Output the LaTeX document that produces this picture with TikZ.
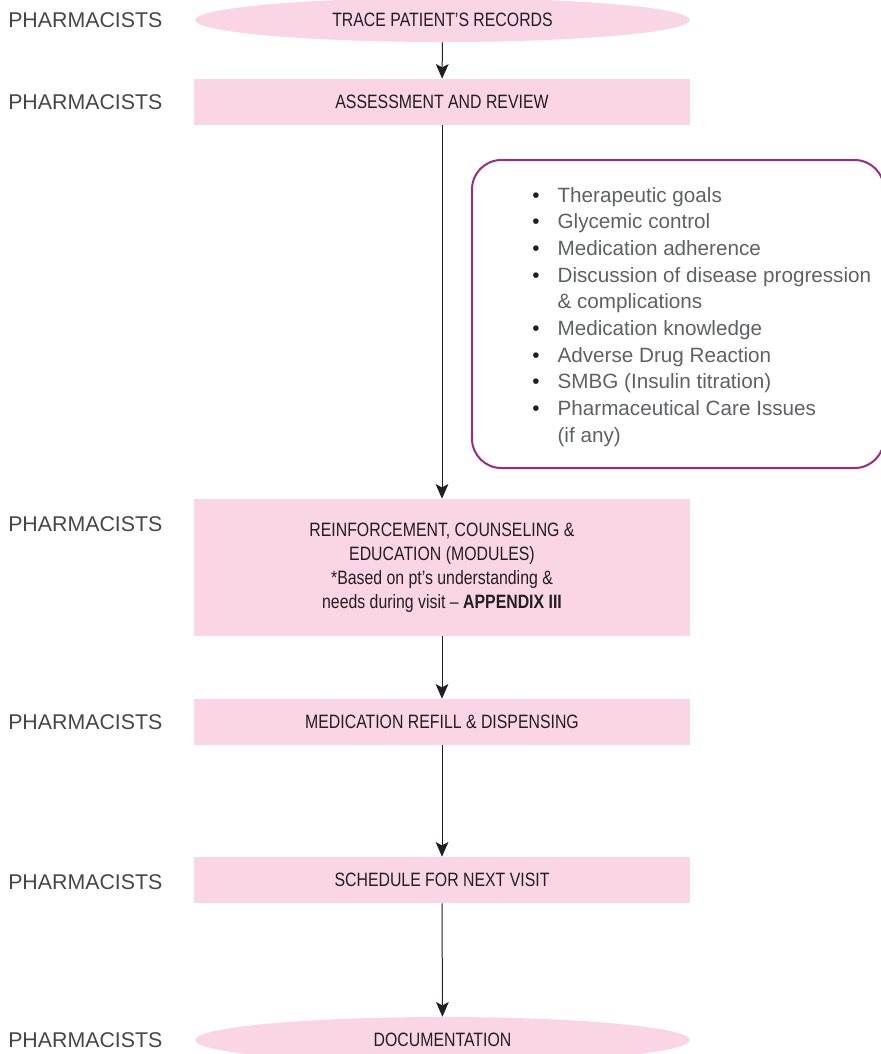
\documentclass[tikz,border=0pt]{standalone}
\usepackage{fontspec}
\setmainfont{Liberation Sans}
\newfontfamily\condfont[FakeStretch=0.82]{Liberation Sans}
\usetikzlibrary{arrows.meta}
\usetikzlibrary{shapes.geometric}
\definecolor{boxpink}{RGB}{249,213,229}
\definecolor{framepurple}{RGB}{152,42,140}
\definecolor{inkdark}{RGB}{35,31,32}
\definecolor{labelgray}{RGB}{70,70,72}
\definecolor{listgray}{RGB}{95,96,98}
\tikzset{
  stepbox/.style={rectangle, fill=boxpink, draw=none, minimum width=372pt, minimum height=34.5pt, inner sep=0pt, align=center, text=inkdark, font=\condfont\fontsize{14.5}{18}\selectfont},
  endcap/.style={ellipse, fill=boxpink, draw=none, minimum width=371pt, minimum height=33pt, inner sep=0pt, text=inkdark, font=\condfont\fontsize{14.5}{18}\selectfont},
  rolelabel/.style={anchor=west, inner sep=0pt, text=labelgray, font=\fontsize{16}{18}\selectfont},
  flow/.style={line width=0.75pt, draw=inkdark, -{Stealth[length=11pt,width=9.5pt,inset=2.5pt]}}
}
\newcommand{\bul}{\makebox[19pt][l]{\textcolor{inkdark}{\textbullet}}}
\newcommand{\bulskip}{\hspace*{19pt}}
\begin{document}
\begin{tikzpicture}[x=0.75pt,y=0.75pt,yscale=-1,xscale=1]
\useasboundingbox (0,0) rectangle (881,1054);

%Flow steps
\node [endcap] (trace) at (442.5,20) {TRACE PATIENT’S RECORDS};
\node [stepbox] (assess) at (442,102) {ASSESSMENT AND REVIEW};
\node [stepbox, minimum height=102.75pt] (reinf) at (442,567.5) {REINFORCEMENT, COUNSELING \&\\EDUCATION (MODULES)\\*Based on pt’s understanding \&\\needs during visit – \textbf{APPENDIX III}};
\node [stepbox] (refill) at (442,722) {MEDICATION REFILL \& DISPENSING};
\node [stepbox] (sched) at (442,880) {SCHEDULE FOR NEXT VISIT};
\node [endcap, minimum height=34.5pt] (docu) at (442.5,1040) {DOCUMENTATION};

%Role labels
\node [rolelabel] (role1) at (8,20) {PHARMACISTS};
\node [rolelabel] (role2) at (8,102) {PHARMACISTS};
\node [rolelabel] (role3) at (8,524) {PHARMACISTS};
\node [rolelabel] (role4) at (8,722) {PHARMACISTS};
\node [rolelabel] (role5) at (8,882) {PHARMACISTS};
\node [rolelabel] (role6) at (8,1040) {PHARMACISTS};

%Review checklist
\draw [draw=framepurple, line width=1.5pt, rounded corners=22pt] (472,160) rectangle (884,468);
\node [anchor=north west, inner sep=0pt, align=left, text=listgray, font=\fontsize{15.5}{20}\selectfont] (checklist) at (532,187) {\bul Therapeutic goals\\\bul Glycemic control\\\bul Medication adherence\\\bul Discussion of disease progression\\\bulskip\& complications\\\bul Medication knowledge\\\bul Adverse Drug Reaction\\\bul SMBG (Insulin titration)\\\bul Pharmaceutical Care Issues\\\bulskip(if any)};

%Connectors
\draw [flow] (trace) -- (assess);
\draw [flow] (assess) -- (reinf);
\draw [flow] (reinf) -- (refill);
\draw [flow] (refill) -- (sched);
\draw [flow] (sched) -- (docu);

\end{tikzpicture}
\end{document}
